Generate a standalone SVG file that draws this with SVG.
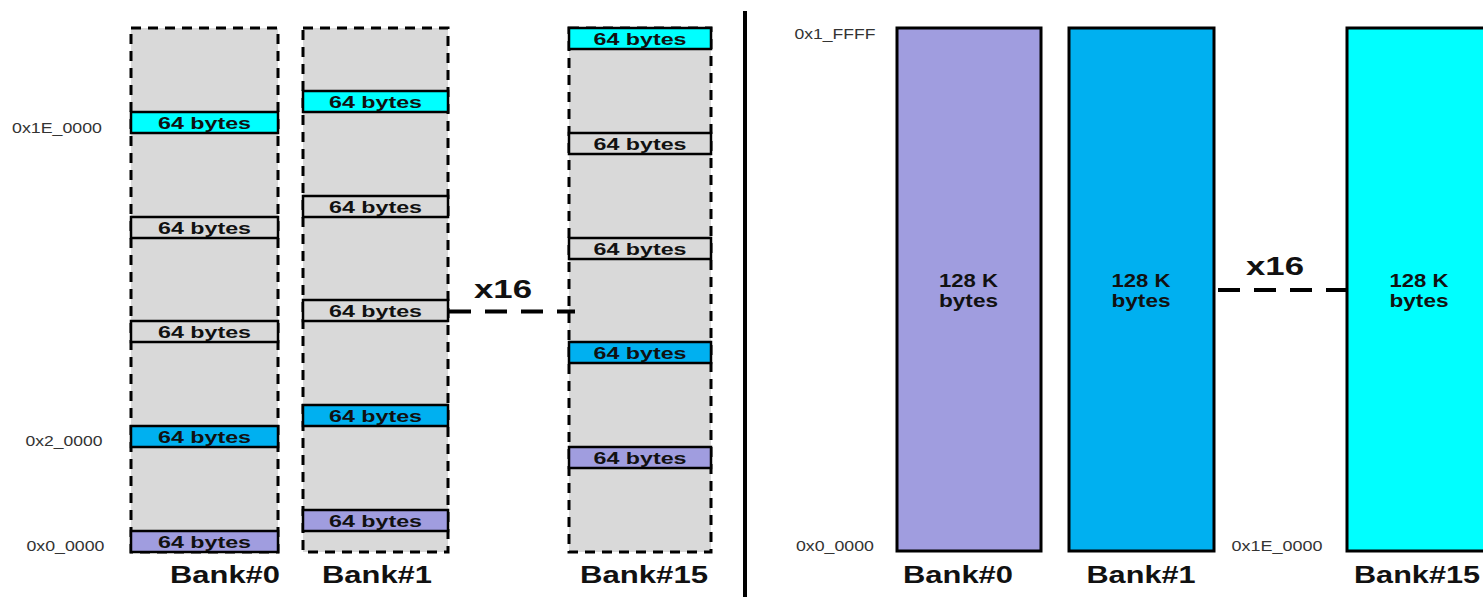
<svg xmlns="http://www.w3.org/2000/svg" width="1483" height="597" viewBox="0 0 1483 597">
  <style>
    .bank-outline { fill: #d9d9d9; stroke: #000; stroke-width: 3; stroke-dasharray: 10 7; }
    .blk { stroke: #000; stroke-width: 2.5; }
    .cyan { fill: #00ffff; }
    .blue { fill: #00b0f0; }
    .gray { fill: #d9d9d9; }
    .purple { fill: #a09ddf; }
    .blk-text { font-family: "Liberation Sans", Arial, sans-serif; font-weight: bold; font-size: 16.5px; fill: #111; text-anchor: middle; }
    .addr { font-family: "Liberation Sans", Arial, sans-serif; font-size: 14px; fill: #333; text-anchor: middle; }
    .bank-label { font-family: "Liberation Sans", Arial, sans-serif; font-weight: bold; font-size: 24px; fill: #111; text-anchor: middle; }
    .mult { font-family: "Liberation Sans", Arial, sans-serif; font-weight: bold; font-size: 26px; fill: #111; text-anchor: middle; }
    .big { stroke: #000; stroke-width: 3; }
    .big-text { font-family: "Liberation Sans", Arial, sans-serif; font-weight: bold; font-size: 17.5px; fill: #111; text-anchor: middle; }
    .link { stroke: #000; stroke-width: 4; stroke-dasharray: 22 14; fill: none; }
  </style>

  <rect width="1483" height="597" fill="#fff"/>

  <!-- Interleaved layout: 64-byte chunks spread across banks -->
  <g id="interleaved-bank0">
    <rect class="bank-outline" x="131" y="28" width="147" height="524"/>
    <rect class="blk cyan" x="131" y="112" width="147" height="21"/>
    <text class="blk-text" x="204.5" y="128.5" textLength="93" lengthAdjust="spacingAndGlyphs">64 bytes</text>
    <rect class="blk gray" x="131" y="217" width="147" height="21"/>
    <text class="blk-text" x="204.5" y="233.5" textLength="93" lengthAdjust="spacingAndGlyphs">64 bytes</text>
    <rect class="blk gray" x="131" y="321" width="147" height="21"/>
    <text class="blk-text" x="204.5" y="337.5" textLength="93" lengthAdjust="spacingAndGlyphs">64 bytes</text>
    <rect class="blk blue" x="131" y="426" width="147" height="21"/>
    <text class="blk-text" x="204.5" y="442.5" textLength="93" lengthAdjust="spacingAndGlyphs">64 bytes</text>
    <rect class="blk purple" x="131" y="531" width="147" height="21"/>
    <text class="blk-text" x="204.5" y="547.5" textLength="93" lengthAdjust="spacingAndGlyphs">64 bytes</text>
    <text class="bank-label" x="225" y="583" textLength="110" lengthAdjust="spacingAndGlyphs">Bank#0</text>
  </g>

  <g id="interleaved-bank1">
    <rect class="bank-outline" x="303" y="28" width="145" height="524"/>
    <rect class="blk cyan" x="303" y="91" width="145" height="21"/>
    <text class="blk-text" x="375.5" y="107.5" textLength="93" lengthAdjust="spacingAndGlyphs">64 bytes</text>
    <rect class="blk gray" x="303" y="196" width="145" height="21"/>
    <text class="blk-text" x="375.5" y="212.5" textLength="93" lengthAdjust="spacingAndGlyphs">64 bytes</text>
    <rect class="blk gray" x="303" y="300" width="145" height="21"/>
    <text class="blk-text" x="375.5" y="316.5" textLength="93" lengthAdjust="spacingAndGlyphs">64 bytes</text>
    <rect class="blk blue" x="303" y="405" width="145" height="21"/>
    <text class="blk-text" x="375.5" y="421.5" textLength="93" lengthAdjust="spacingAndGlyphs">64 bytes</text>
    <rect class="blk purple" x="303" y="510" width="145" height="21"/>
    <text class="blk-text" x="375.5" y="526.5" textLength="93" lengthAdjust="spacingAndGlyphs">64 bytes</text>
    <text class="bank-label" x="377" y="583" textLength="110" lengthAdjust="spacingAndGlyphs">Bank#1</text>
  </g>

  <g id="interleaved-bank15">
    <rect class="bank-outline" x="569" y="28" width="142" height="524"/>
    <rect class="blk cyan" x="569" y="28" width="142" height="21"/>
    <text class="blk-text" x="640" y="44.5" textLength="93" lengthAdjust="spacingAndGlyphs">64 bytes</text>
    <rect class="blk gray" x="569" y="133" width="142" height="21"/>
    <text class="blk-text" x="640" y="149.5" textLength="93" lengthAdjust="spacingAndGlyphs">64 bytes</text>
    <rect class="blk gray" x="569" y="238" width="142" height="21"/>
    <text class="blk-text" x="640" y="254.5" textLength="93" lengthAdjust="spacingAndGlyphs">64 bytes</text>
    <rect class="blk blue" x="569" y="342" width="142" height="21"/>
    <text class="blk-text" x="640" y="358.5" textLength="93" lengthAdjust="spacingAndGlyphs">64 bytes</text>
    <rect class="blk purple" x="569" y="447" width="142" height="21"/>
    <text class="blk-text" x="640" y="463.5" textLength="93" lengthAdjust="spacingAndGlyphs">64 bytes</text>
    <text class="bank-label" x="644" y="583" textLength="128" lengthAdjust="spacingAndGlyphs">Bank#15</text>
  </g>

  <g id="interleaved-addresses">
    <text class="addr" x="57" y="132.5" textLength="90" lengthAdjust="spacingAndGlyphs">0x1E_0000</text>
    <text class="addr" x="64" y="446" textLength="77" lengthAdjust="spacingAndGlyphs">0x2_0000</text>
    <text class="addr" x="65.5" y="551" textLength="78" lengthAdjust="spacingAndGlyphs">0x0_0000</text>
  </g>

  <!-- Separator between the two layouts -->
  <line id="divider" x1="745" y1="11" x2="745" y2="597" stroke="#000" stroke-width="4"/>

  <!-- Linear layout: one contiguous 128 KB block per bank -->
  <g id="linear-bank0">
    <rect class="big purple" x="897" y="28" width="144" height="523"/>
    <text class="big-text" x="968.5" y="286.5" textLength="59" lengthAdjust="spacingAndGlyphs">128 K</text>
    <text class="big-text" x="968.5" y="307" textLength="59" lengthAdjust="spacingAndGlyphs">bytes</text>
    <text class="bank-label" x="958" y="583" textLength="110" lengthAdjust="spacingAndGlyphs">Bank#0</text>
  </g>

  <g id="linear-bank1">
    <rect class="big blue" x="1069" y="28" width="145" height="523"/>
    <text class="big-text" x="1141" y="286.5" textLength="59" lengthAdjust="spacingAndGlyphs">128 K</text>
    <text class="big-text" x="1141" y="307" textLength="59" lengthAdjust="spacingAndGlyphs">bytes</text>
    <text class="bank-label" x="1141" y="583" textLength="109" lengthAdjust="spacingAndGlyphs">Bank#1</text>
  </g>

  <g id="linear-bank15">
    <rect class="big cyan" x="1347" y="28" width="150" height="523"/>
    <text class="big-text" x="1419" y="286.5" textLength="59" lengthAdjust="spacingAndGlyphs">128 K</text>
    <text class="big-text" x="1419" y="307" textLength="59" lengthAdjust="spacingAndGlyphs">bytes</text>
    <text class="bank-label" x="1417" y="583" textLength="126" lengthAdjust="spacingAndGlyphs">Bank#15</text>
  </g>

  <g id="linear-addresses">
    <text class="addr" x="835" y="38.5" textLength="81" lengthAdjust="spacingAndGlyphs">0x1_FFFF</text>
    <text class="addr" x="835" y="551" textLength="78" lengthAdjust="spacingAndGlyphs">0x0_0000</text>
    <text class="addr" x="1277" y="551" textLength="91" lengthAdjust="spacingAndGlyphs">0x1E_0000</text>
  </g>

  <!-- Repetition connectors -->
  <g id="connectors">
    <line class="link" x1="449" y1="311.5" x2="575" y2="311.5"/>
    <text class="mult" x="503" y="297.5" textLength="58" lengthAdjust="spacingAndGlyphs">x16</text>
    <line class="link" x1="1218" y1="290" x2="1346" y2="290"/>
    <text class="mult" x="1275" y="275" textLength="58" lengthAdjust="spacingAndGlyphs">x16</text>
  </g>
</svg>
